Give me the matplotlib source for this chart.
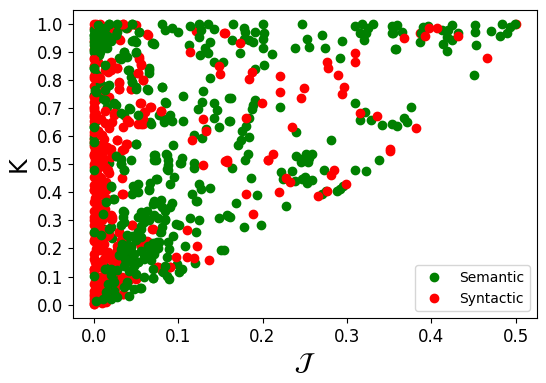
import matplotlib
matplotlib.use("Agg")
import matplotlib.pyplot as plt

# puntos rojos que quedan debajo de los verdes
syn_back_x = [0.0, 0.008, 0.0, 0.004, 0.002, 0.0, 0.006, 0.012, 0.0, 0.003, 0.001, 0.005, 0.0, 0.002, 0.386, 0.5, 0.121,
              0.0, 0.004, 0.0, 0.002, 0.0, 0.003, 0.0, 0.005, 0.0, 0.001, 0.012, 0.02, 0.03, 0.04, 0.05]
syn_back_y = [1.0, 1.0, 0.985, 0.97, 0.955, 0.94, 0.925, 0.98, 0.91, 0.895, 0.88, 0.865, 0.85, 0.83, 0.969, 1.0, 0.976,
              0.815, 0.795, 0.78, 0.76, 0.745, 0.73, 0.64, 0.62, 0.605, 0.59, 0.99, 0.985, 0.99, 0.985, 0.995]

sem_x = [0.165, 0.178, 0.179, 0.191, 0.184, 0.178, 0.164, 0.189, 0.201, 0.202, 0.201, 0.173, 0.2, 0.211, 0.202, 0.191,
         0.247, 0.253, 0.255, 0.238, 0.27, 0.274, 0.294, 0.292, 0.163, 0.191, 0.189, 0.188, 0.221, 0.184, 0.162, 0.18,
         0.176, 0.184, 0.175, 0.171, 0.24, 0.281, 0.183, 0.179, 0.31, 0.318, 0.331, 0.325, 0.316, 0.32, 0.323, 0.353,
         0.355, 0.357, 0.31, 0.321, 0.316, 0.329, 0.342, 0.353, 0.24, 0.245, 0.251, 0.255, 0.259, 0.338,
         0.359, 0.367, 0.371, 0.376,
         0.355, 0.359, 0.365, 0.353, 0.358, 0.386, 0.388, 0.39, 0.396, 0.412, 0.424, 0.42, 0.418, 0.424, 0.414, 0.419,
         0.432, 0.452, 0.451, 0.453, 0.45, 0.47, 0.481, 0.489, 0.483, 0.493, 0.499,
         0.164, 0.186, 0.222, 0.224, 0.235, 0.239, 0.25, 0.253, 0.258, 0.247, 0.254, 0.245, 0.273, 0.309, 0.322,
         0.275, 0.27, 0.288, 0.292, 0.295, 0.194, 0.169, 0.228, 0.158, 0.162, 0.178, 0.198, 0.154,
         0.018, 0.046, 0.081, 0.085, 0.093, 0.1, 0.114, 0.125, 0.127, 0.136, 0.142, 0.125, 0.113, 0.138, 0.132, 0.126,
         0.136, 0.143, 0.153, 0.138, 0.13, 0.128, 0.124, 0.142, 0.146, 0.143, 0.149, 0.16, 0.16, 0.133, 0.119, 0.128,
         0.094, 0.073, 0.086, 0.088, 0.105, 0.102, 0.119, 0.106, 0.086, 0.081, 0.063, 0.077, 0.083, 0.091, 0.093, 0.106,
         0.067, 0.043, 0.036, 0.026, 0.016, 0.05, 0.026, 0.032, 0.018,
         0.054, 0.05, 0.046, 0.071, 0.069, 0.036, 0.05, 0.03, 0.04, 0.042, 0.065, 0.065, 0.044, 0.046, 0.05, 0.038,
         0.028, 0.02,
         0.0, 0.006, 0.01, 0.0, 0.008, 0.0, 0.01, 0.0, 0.002, 0.0, 0.002, 0.0, 0.01, 0.016, 0.008, 0.0, 0.004, 0.0, 0.0,
         0.004, 0.012, 0.003, 0.014, 0.006, 0.018,
         0.032, 0.036, 0.072, 0.088, 0.088, 0.104, 0.119, 0.095, 0.091, 0.074, 0.067, 0.065, 0.052, 0.047, 0.052, 0.045,
         0.125, 0.127, 0.138, 0.117, 0.121, 0.123, 0.093, 0.071, 0.075, 0.081, 0.085, 0.035, 0.056, 0.063, 0.071, 0.035,
         0.052, 0.06, 0.085, 0.081, 0.079, 0.097, 0.101, 0.114, 0.125, 0.149, 0.159, 0.121, 0.094, 0.088, 0.108, 0.151,
         0.056, 0.046, 0.038, 0.044, 0.052, 0.075, 0.067, 0.073, 0.06, 0.065, 0.052, 0.048, 0.036, 0.034, 0.087, 0.081,
         0.087, 0.101, 0.105, 0.099, 0.12, 0.07, 0.056, 0.04, 0.03, 0.02, 0.014, 0.024, 0.022, 0.014, 0.01, 0.002, 0.02,
         0.028, 0.024, 0.014, 0.023, 0.02, 0.01, 0.02, 0.022, 0.012, 0.01, 0.036, 0.03]
sem_y = [1.0, 0.985, 0.973, 0.973, 0.943, 0.945, 0.943, 0.937, 1.0, 0.967, 0.946, 0.898, 0.916, 0.893, 0.854, 0.84,
         1.0, 0.947, 0.919, 0.916, 0.961, 0.916, 0.941, 0.878, 0.735, 0.729, 0.711, 0.697, 0.703, 0.666, 0.656, 0.636,
         0.619, 0.598, 0.586, 0.567, 0.615, 0.585, 0.536, 0.515, 0.993, 1.0, 1.0, 0.985, 0.967, 0.943, 0.967, 0.993,
         0.967, 0.911, 0.718, 0.685, 0.657, 0.657, 0.64, 0.643, 0.529, 0.52, 0.538, 0.524, 0.535, 0.515,
         0.636, 0.665, 0.651, 0.703,
         0.985, 0.997, 0.973, 0.967, 0.912, 0.935, 0.967, 0.988, 0.993, 0.979, 0.997, 0.979, 0.955, 0.943, 0.928, 0.905,
         0.967, 0.997, 0.971, 0.925, 0.818, 0.976, 0.957, 0.967, 1.0, 0.991, 1.0,
         0.488, 0.451, 0.472, 0.449, 0.476, 0.44, 0.454, 0.433, 0.445, 0.449, 0.508, 0.508, 0.481, 0.481, 0.476,
         0.403, 0.395, 0.404, 0.413, 0.421, 0.389, 0.363, 0.35, 0.318, 0.312, 0.276, 0.282, 0.195,
         1.0, 1.0, 1.0, 0.979, 0.985, 0.971, 0.993, 1.0, 0.979, 1.0, 0.981, 0.953, 0.924, 0.935, 0.916, 0.89,
         0.896, 0.866, 0.866, 0.809, 0.762, 0.722, 0.696, 0.719, 0.693, 0.666, 0.634, 0.735, 0.655, 0.624, 0.604, 0.594,
         0.567, 0.532, 0.535, 0.515, 0.523, 0.503, 0.503, 0.744, 0.72, 0.774, 0.767, 0.675, 0.663, 0.675, 0.655, 0.655,
         0.651, 0.697, 0.675, 0.711, 0.705, 0.572, 0.529, 0.52, 0.503,
         0.971, 0.937, 0.941, 0.929, 0.931, 0.901, 0.896, 0.878, 0.881, 0.836, 0.842, 0.824, 0.812, 0.794, 0.776, 0.985,
         0.971, 0.949,
         0.979, 0.991, 0.973, 0.949, 0.949, 0.925, 0.931, 0.901, 0.878, 0.842, 0.765, 0.747, 0.735, 0.779, 0.788, 0.634,
         0.657, 0.574, 0.592, 0.82, 0.96, 0.905, 0.985, 0.89, 0.955,
         0.502, 0.478, 0.514, 0.496, 0.478, 0.504, 0.488, 0.454, 0.431, 0.449, 0.433, 0.407, 0.431, 0.421, 0.401, 0.395,
         0.431, 0.413, 0.416, 0.395, 0.369, 0.369, 0.363, 0.369, 0.362, 0.347, 0.335, 0.335, 0.329, 0.335, 0.318, 0.312,
         0.312, 0.306, 0.306, 0.276, 0.258, 0.288, 0.285, 0.309, 0.303, 0.309, 0.314, 0.26, 0.246, 0.222, 0.21, 0.195,
         0.27, 0.246, 0.228, 0.204, 0.258, 0.222, 0.198, 0.193, 0.175, 0.169, 0.151, 0.139, 0.181, 0.163, 0.169, 0.121,
         0.103, 0.115, 0.127, 0.145, 0.149, 0.095, 0.059, 0.068, 0.085, 0.127, 0.133, 0.097, 0.073, 0.044, 0.02, 0.016,
         0.026, 0.032, 0.05, 0.365, 0.377, 0.419, 0.318, 0.276, 0.238, 0.27, 0.193, 0.202, 0.169]

syn_x = [0.156, 0.173, 0.188, 0.184, 0.221, 0.221, 0.249, 0.245, 0.276, 0.278, 0.289, 0.296, 0.294, 0.31, 0.31, 0.199,
         0.18, 0.235, 0.315, 0.335, 0.351, 0.351, 0.212, 0.206, 0.158, 0.382,
         0.367, 0.392, 0.397, 0.407, 0.431, 0.466,
         0.158, 0.206, 0.285, 0.281, 0.228, 0.232, 0.299, 0.276, 0.266, 0.18, 0.22, 0.189,
         0.035, 0.063, 0.03, 0.154, 0.114, 0.148, 0.15, 0.054, 0.056, 0.052, 0.058, 0.044, 0.03, 0.03, 0.028, 0.02, 0.02,
         0.014, 0.006, 0.002, 0.018, 0.012, 0.0, 0.0, 0.0, 0.055, 0.067, 0.061, 0.058, 0.052, 0.058, 0.08, 0.039, 0.035,
         0.024, 0.022, 0.014, 0.018, 0.13, 0.133, 0.117, 0.028, 0.04, 0.036, 0.02, 0.012, 0.01, 0.0, 0.002, 0.006, 0.01,
         0.0, 0.156, 0.13,
         0.016, 0.008, 0.014, 0.034, 0.02, 0.046, 0.03, 0.016, 0.069, 0.11, 0.063, 0.056, 0.054, 0.097, 0.123, 0.111,
         0.119, 0.137, 0.075, 0.091, 0.046, 0.028, 0.004, 0.0, 0.002, 0.012, 0.022, 0.0, 0.002, 0.034, 0.042, 0.05, 0.036,
         0.035, 0.018, 0.008, 0.0, 0.0, 0.004, 0.004, 0.0,
         0.0, 0.003, 0.0, 0.005, 0.001, 0.0, 0.004, 0.002, 0.0, 0.006, 0.0, 0.003, 0.001, 0.0, 0.005, 0.0, 0.002, 0.0,
         0.004, 0.0, 0.008, 0.0, 0.003, 0.0, 0.006, 0.001, 0.0, 0.004, 0.0, 0.002, 0.0, 0.005, 0.0, 0.003, 0.0, 0.001,
         0.003, 0.003, 0.003, 0.0, 0.009, 0.009, 0.005, 0.001, 0.0, 0.017, 0.024, 0.026, 0.017, 0.03, 0.046, 0.07, 0.056,
         0.064, 0.046, 0.035, 0.034, 0.042, 0.018, 0.091, 0.076, 0.022, 0.0, 0.001,
         0.009, 0.018, 0.028, 0.018, 0.038, 0.034, 0.001, 0.011, 0.017, 0.005, 0.015, 0.001, 0.015, 0.003, 0.003, 0.035,
         0.022, 0.0, 0.056, 0.042,
         0.035, 0.064, 0.031, 0.003, 0.02, 0.028, 0.017, 0.007, 0.03, 0.054, 0.056, 0.053, 0.058, 0.044, 0.03, 0.001, 0.0,
         0.0, 0.001, 0.001, 0.024, 0.056, 0.068, 0.06, 0.08, 0.015,
         0.012, 0.008, 0.016, 0.01, 0.02, 0.007, 0.013, 0.018, 0.009, 0.014, 0.006, 0.011, 0.016, 0.008, 0.013, 0.02,
         0.01, 0.006, 0.014, 0.018, 0.009, 0.012, 0.007, 0.015, 0.022, 0.01, 0.006, 0.013, 0.017, 0.008, 0.012, 0.019,
         0.007, 0.011, 0.014, 0.006, 0.01, 0.015, 0.005, 0.009, 0.013, 0.028, 0.032, 0.026, 0.03, 0.025, 0.034]
syn_y = [0.969, 0.931, 0.83, 0.803, 0.815, 0.756, 0.772, 0.735, 0.863, 0.843, 0.82, 0.776, 0.749, 0.896, 0.866, 0.72,
         0.666, 0.634, 0.681, 0.672, 0.556, 0.546, 0.538, 0.517, 0.515, 0.631,
         0.951, 0.957, 0.985, 0.985, 0.957, 0.878,
         0.508, 0.514, 0.478, 0.463, 0.452, 0.437, 0.428, 0.404, 0.387, 0.395, 0.4, 0.322,
         1.0, 0.963, 0.946, 0.969, 0.901, 0.851, 0.821, 0.881, 0.854, 0.826, 0.8, 0.767, 0.77, 0.794, 0.842, 0.866, 0.836,
         0.836, 0.806, 0.86, 0.741, 0.765, 0.723, 0.693, 0.667, 0.717, 0.703, 0.687, 0.663, 0.643, 0.645, 0.691, 0.657,
         0.634, 0.675, 0.651, 0.646, 0.631, 0.662, 0.618, 0.586, 0.586, 0.574, 0.553, 0.556, 0.556, 0.526, 0.538, 0.515,
         0.61, 0.604, 0.616, 0.512, 0.497,
         0.478, 0.454, 0.407, 0.395, 0.306, 0.282, 0.258, 0.243, 0.27, 0.266, 0.225, 0.21, 0.222, 0.169, 0.208, 0.171,
         0.166, 0.159, 0.135, 0.135, 0.169, 0.195, 0.193, 0.181, 0.151, 0.163, 0.157, 0.127, 0.085, 0.097, 0.088, 0.091,
         0.08, 0.038, 0.038, 0.032, 0.002, 0.008, 0.056, 0.478, 0.502,
         0.49, 0.47, 0.455, 0.44, 0.425, 0.41, 0.395, 0.38, 0.365, 0.35, 0.335, 0.32, 0.3, 0.285, 0.27, 0.255, 0.24, 0.225,
         0.21, 0.115, 0.1, 0.075, 0.065, 0.05, 0.04, 0.03, 0.02, 0.012, 0.565, 0.55, 0.53, 0.52, 0.58, 0.68, 0.705, 0.655,
         0.294, 0.199, 0.157, 0.128, 0.139, 0.098, 0.068, 0.038, 0.002, 0.187, 0.175, 0.151, 0.247, 0.258, 0.282, 0.27,
         0.217, 0.223, 0.169, 0.038, 0.092, 0.098, 0.038, 0.133, 0.133, 0.304, 0.163, 0.229,
         0.603, 0.645, 0.586, 0.55, 0.574, 0.55, 0.532, 0.514, 0.478, 0.455, 0.437, 0.407, 0.407, 0.371, 0.336, 0.393,
         0.312, 0.312, 0.645, 0.651,
         0.999, 0.961, 0.943, 0.999, 0.859, 0.842, 0.83, 0.806, 0.788, 0.877, 0.859, 0.827, 0.8, 0.77, 0.768, 0.877, 0.806,
         0.74, 0.699, 0.675, 0.681, 0.72, 0.705, 0.687, 0.689, 0.836,
         0.59, 0.57, 0.56, 0.54, 0.525, 0.505, 0.49, 0.47, 0.45, 0.43, 0.415, 0.39, 0.375, 0.355, 0.34, 0.32,
         0.3, 0.28, 0.265, 0.25, 0.235, 0.215, 0.195, 0.18, 0.165, 0.15, 0.135, 0.115, 0.1, 0.085, 0.07, 0.06,
         0.05, 0.035, 0.025, 0.015, 0.005, 0.01, 0.62, 0.66, 0.69, 0.21, 0.23, 0.12, 0.075, 0.06, 0.45]

# verdes que tapan a los rojos
sem_top_x = [0.001, 0.015, 0.003, 0.02, 0.024, 0.04, 0.055, 0.044, 0.07, 0.032, 0.001, 0.009, 0.018, 0.036,
             0.013, 0.02, 0.028, 0.036, 0.052, 0.06, 0.072, 0.044, 0.084, 0.082, 0.089, 0.017, 0.024, 0.011, 0.02, 0.028,
             0.036, 0.048, 0.032, 0.04, 0.052, 0.06, 0.08, 0.084, 0.078, 0.089,
             0.001, 0.001, 0.026, 0.032, 0.036, 0.044, 0.05, 0.02, 0.024, 0.015, 0.011, 0.036, 0.048, 0.048, 0.066, 0.075,
             0.072, 0.074, 0.087, 0.087, 0.06, 0.07, 0.08, 0.091, 0.0, 0.083, 0.068,
             0.001, 0.009, 0.0, 0.007, 0.013, 0.018, 0.028, 0.026, 0.046, 0.054, 0.07, 0.048, 0.036, 0.032, 0.05, 0.001,
             0.001, 0.013, 0.041, 0.046, 0.05, 0.066, 0.064, 0.081, 0.003, 0.013, 0.018, 0.024, 0.042, 0.085, 0.013, 0.032,
             0.052,
             0.005, 0.012, 0.003, 0.008, 0.015, 0.005, 0.0, 0.01, 0.02, 0.016,
             0.044, 0.05, 0.056, 0.064, 0.07, 0.076, 0.048, 0.056, 0.064, 0.04, 0.068, 0.03, 0.042, 0.05, 0.06, 0.07,
             0.056, 0.066, 0.076, 0.034, 0.042]
sem_top_y = [0.101, 0.044, 0.014, 0.128, 0.08, 0.08, 0.06, 0.151, 0.095, 0.199, 0.258, 0.247, 0.27, 0.294,
             0.128, 0.104, 0.122, 0.139, 0.151, 0.163, 0.181, 0.187, 0.139, 0.116, 0.092, 0.074, 0.05, 0.02, 0.02, 0.026,
             0.062, 0.056, 0.282, 0.247, 0.258, 0.294, 0.258, 0.3, 0.223, 0.199,
             0.633, 0.58, 0.528, 0.502, 0.478, 0.514, 0.574, 0.421, 0.377, 0.365, 0.324, 0.33, 0.419, 0.401, 0.413, 0.449,
             0.532, 0.517, 0.532, 0.484, 0.324, 0.36, 0.371, 0.347, 0.478, 0.651, 0.645,
             0.961, 0.984, 0.937, 0.949, 0.931, 0.999, 0.999, 0.961, 0.999, 0.972, 0.931, 0.943, 0.901, 0.877, 0.901, 0.907,
             0.842, 0.853, 0.836, 0.794, 0.77, 0.836, 0.764, 0.774, 0.758, 0.764, 0.782, 0.717, 0.699, 0.722, 0.728, 0.681,
             0.675,
             0.995, 0.975, 0.92, 0.9, 0.96, 0.97, 0.96, 0.915, 0.94, 0.915,
             0.21, 0.23, 0.24, 0.21, 0.22, 0.2, 0.18, 0.19, 0.17, 0.16, 0.16, 0.175, 0.12, 0.11, 0.1, 0.125,
             0.28, 0.3, 0.31, 0.215, 0.03]

fig = plt.figure(figsize=(5.46, 3.83), dpi=100)
ax = fig.add_axes([72.5 / 546, 1 - 318 / 383, 464.5 / 546, 308 / 383])

ax.plot(syn_back_x, syn_back_y, "o", color="red")
ax.plot(sem_x, sem_y, "o", color="green", label="Semantic")
ax.plot(syn_x, syn_y, "o", color="red", label="Syntactic")
ax.plot(sem_top_x, sem_top_y, "o", color="green")

ax.set_yticks([i / 10 for i in range(11)])
ax.tick_params(labelsize=12)
ax.set_xlabel(r"$\mathcal{J}$", fontsize=18)
ax.set_ylabel("K", fontsize=17)
ax.legend(loc="lower right", fontsize=10)

fig.savefig("out.png", dpi=100)
